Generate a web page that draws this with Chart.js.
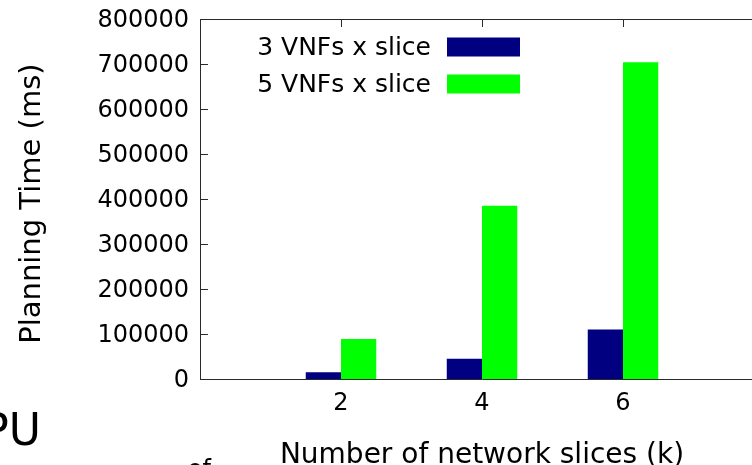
<!DOCTYPE html>
<html>
<head>
<meta charset="utf-8">
<script src="https://cdn.jsdelivr.net/npm/chart.js@4/dist/chart.umd.min.js"></script>
<style>
  html, body { margin: 0; padding: 0; background: #fff; overflow: hidden; width: 752px; height: 465px; }
  #wrap { position: relative; width: 780px; height: 471px; }
</style>
</head>
<body>
<div id="wrap"><canvas id="c" width="780" height="471"></canvas></div>
<script>
// ---- data ----
const categories = [2, 4, 6];
const vnf3 = [15000, 45000, 110000];
const vnf5 = [89000, 385000, 704000];
const seriesLabels = ['3 VNFs x slice', '5 VNFs x slice'];
const yTicks = [0, 100000, 200000, 300000, 400000, 500000, 600000, 700000, 800000];
const xTickLabels = ['2', '4', '6'];

const FONT = 'DejaVu Sans';
const AXIS_COLOR = '#2a2a2a';

const innerTicks = {
  id: 'innerTicks',
  afterDatasetsDraw(chart) {
    const {ctx, chartArea: a, scales: {x, y}} = chart;
    ctx.save();
    ctx.strokeStyle = AXIS_COLOR;
    ctx.lineWidth = 1;
    ctx.beginPath();
    // top border
    ctx.moveTo(a.left, Math.round(a.top) + 0.5);
    ctx.lineTo(a.right, Math.round(a.top) + 0.5);
    // y ticks inside
    y.ticks.forEach(t => {
      const py = Math.round(y.getPixelForValue(t.value)) + 0.5;
      ctx.moveTo(a.left, py); ctx.lineTo(a.left + 8, py);
    });
    // x ticks on top, pointing down
    x.ticks.forEach(t => {
      const px = Math.round(x.getPixelForValue(t.value)) + 0.5;
      ctx.moveTo(px, a.top); ctx.lineTo(px, a.top + 8);
    });
    ctx.stroke();

    // legend (text left, swatch right)
    ctx.font = '25px "' + FONT + '"';
    ctx.textAlign = 'right';
    ctx.textBaseline = 'middle';
    chart.data.datasets.forEach((ds, i) => {
      const cy = a.top + 28 + i * 37;
      ctx.fillStyle = '#000';
      ctx.fillText(ds.label, a.left + 231, cy + 1);
      ctx.fillStyle = ds.backgroundColor;
      ctx.fillRect(a.left + 247, cy - 9.5, 73, 19);
    });

    // cropped fragments from surrounding page
    ctx.fillStyle = '#000';
    ctx.textAlign = 'right';
    ctx.textBaseline = 'alphabetic';
    ctx.font = '44px "' + FONT + '"';
    ctx.fillText('PU', 41, 445);
    ctx.font = '24px "' + FONT + '"';
    ctx.fillText('of', 211, 477);
    ctx.restore();
  }
};

new Chart(document.getElementById('c'), {
  type: 'bar',
  data: {
    datasets: [
      { label: seriesLabels[0], data: categories.map((c, i) => ({x: c, y: vnf3[i]})),
        backgroundColor: '#000080', borderWidth: 0 },
      { label: seriesLabels[1], data: categories.map((c, i) => ({x: c, y: vnf5[i]})),
        backgroundColor: '#00ff00', borderWidth: 0 }
    ]
  },
  options: {
    responsive: false,
    animation: false,
    events: [],
    categoryPercentage: 0.5,
    barPercentage: 1.0,
    layout: { padding: { top: 19, right: 16, left: 0, bottom: 0 } },
    plugins: { legend: { display: false }, tooltip: { enabled: false }, title: { display: false } },
    scales: {
      x: {
        type: 'linear', min: 0, max: 8, offset: false,
        afterBuildTicks: s => { s.ticks = categories.map(v => ({value: v})); },
        afterFit: s => { s.height = 92; s.paddingLeft = 0; s.paddingRight = 0; },
        grid: { display: false, drawTicks: false, offset: false },
        border: { display: true, color: AXIS_COLOR, width: 1 },
        ticks: { color: '#000', font: { family: FONT, size: 24 }, padding: 10,
                 callback: (v) => xTickLabels[categories.indexOf(v)] ?? '' , maxRotation: 0, autoSkip: false },
        title: { display: true, text: 'Number of network slices (k)', color: '#000',
                 font: { family: FONT, size: 28 }, padding: { top: 0, bottom: -2 } }
      },
      y: {
        min: 0, max: 800000,
        afterBuildTicks: s => { s.ticks = yTicks.map(v => ({value: v})); },
        afterFit: s => { s.width = 200; s.paddingTop = 0; s.paddingBottom = 0; },
        grid: { display: false, drawTicks: false },
        border: { display: true, color: AXIS_COLOR, width: 1 },
        ticks: { color: '#000', font: { family: FONT, size: 24 }, padding: 11, labelOffset: 2,
                 callback: (v) => String(v) },
        title: { display: true, text: 'Planning Time (ms) ', color: '#000',
                 font: { family: FONT, size: 29 }, padding: { top: 15, bottom: 0 } }
      }
    }
  },
  plugins: [innerTicks]
});
</script>
</body>
</html>
